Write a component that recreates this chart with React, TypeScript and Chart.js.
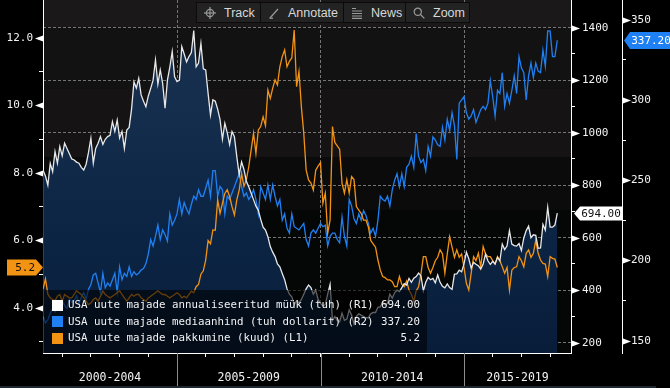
import React, { useEffect, useRef } from "react";
import { Chart, registerables } from "chart.js";

Chart.register(...registerables);

// ---------- data (monthly, Apr 2000 – Mar 2018) ----------
const START_YEAR = 2000;
const START_MONTH = 4; // April

// USA uute majade annualiseeritud müük (tuh) – R1
const SALES = [
  857, 835, 800, 883, 851, 928, 884, 947, 912,
  960, 940, 920, 900, 896, 888, 884, 868, 858, 880, 925, 979,
  884, 940, 960, 985, 955, 975, 985, 990, 1042, 1005, 1048, 980,
  1005, 940, 1010, 1020, 1090, 1194, 1170, 1207, 1144, 1120, 1099, 1140,
  1169, 1200, 1277, 1185, 1239, 1188, 1093, 1200, 1250, 1309, 1213, 1195,
  1200, 1328, 1300, 1270, 1290, 1305, 1389, 1251, 1265, 1340, 1243, 1239,
  1150, 1067, 1125, 1120, 1090, 1050, 975, 1036, 1000, 955, 1004, 985,
  909, 840, 889, 860, 815, 794, 769, 745, 720, 705, 670, 640,
  629, 604, 566, 545, 528, 500, 489, 464, 440, 405, 385, 375,
  345, 360, 352, 365, 385, 405, 420, 410, 385, 400, 365, 350,
  340, 345, 385, 422, 285, 300, 285, 280, 312, 285, 290, 325,
  305, 272, 300, 310, 305, 300, 295, 295, 310, 315, 315, 335,
  336, 355, 345, 350, 385, 370, 390, 400, 395, 410, 425, 420,
  445, 430, 446, 452, 465, 455, 398, 430, 449, 440, 445, 428,
  458, 430, 415, 409, 424, 410, 403, 461, 462, 476, 470, 500,
  545, 520, 484, 506, 499, 493, 481, 500, 538, 512, 498, 510,
  500, 525, 512, 576, 555, 569, 627, 576, 570, 568, 578, 551,
  599, 627, 644, 600, 611, 609, 560, 561, 651, 629, 716, 640,
  640, 648, 694,
];

// USA uute majade mediaanhind (tuh dollarit) – R2
const PRICE = [
  165, 161, 163, 167, 170, 168, 172, 170, 175,
  172, 170, 176, 174, 175, 178, 173, 177, 180, 176, 182, 185,
  191, 192, 186, 180, 192, 183, 186, 184, 188, 192, 180, 196,
  188, 192, 190, 196, 190, 193, 191, 192, 194, 195, 198, 204,
  213, 209, 215, 222, 213, 219, 216, 212, 229, 222, 225, 229,
  238, 229, 236, 232, 229, 235, 240, 238, 244, 240, 240, 245,
  250, 240, 256, 256, 240, 246, 244, 229, 240, 238, 242, 246,
  250, 254, 246, 240, 242, 238, 240, 244, 238, 229, 246, 242,
  238, 247, 238, 247, 240, 234, 238, 225, 229, 220, 217, 229,
  221, 220, 219, 221, 223, 213, 209, 217, 219, 217, 220, 223,
  221, 222, 209, 215, 217, 217, 213, 211, 227, 215, 209, 238,
  234, 226, 223, 229, 225, 231, 228, 223, 217, 220, 215, 225,
  240, 238, 237, 240, 234, 244, 250, 254, 246, 254, 246, 258,
  260, 265, 258, 279, 265, 261, 263, 256, 271, 265, 277, 275,
  272, 271, 283, 275, 288, 281, 292, 284, 263, 298, 300, 302,
  292, 288, 290, 294, 286, 290, 294, 296, 294, 298, 312, 302,
  290, 306, 304, 317, 296, 304, 298, 306, 315, 304, 327, 320,
  317, 300, 315, 323, 314, 323, 318, 317, 331, 321, 343, 343,
  327, 327, 337.2,
];

// USA uute majade pakkumine (kuud) – L1
const SUPPLY = [
  4.56, 4.86, 4.41, 4.3, 4.25, 4.22, 4.35, 4.4, 4.2,
  4.4, 4.35, 4.3, 4.3, 4.4, 4.51, 4.45, 4.4, 4.3, 4.2, 4.1, 4.15,
  4.25, 4.3, 4.2, 4.35, 4.5, 4.4, 4.35, 4.3, 4.35, 4.4, 4.45, 4.51,
  4.4, 4.3, 4.2, 4.3, 4.4, 4.35, 4.4, 4.4, 4.3, 4.25, 4.2, 4.3,
  4.35, 4.4, 4.45, 4.51, 4.45, 4.4, 4.4, 4.35, 4.3, 4.35, 4.4, 4.45,
  4.4, 4.3, 4.35, 4.3, 4.4, 4.5, 4.45, 4.63, 4.7, 5.0, 5.1, 5.42,
  6.0, 5.9, 6.31, 6.3, 7.2, 6.8, 7.1, 7.39, 7.5, 7.3, 7.0, 6.75,
  7.2, 7.49, 7.98, 7.6, 7.8, 8.18, 8.68, 9.17, 8.58, 9.27, 9.37, 9.66,
  9.4, 10.45, 10.2, 10.5, 10.75, 10.6, 11.14, 11.44, 11.64, 11.14, 11.3, 11.4,
  12.23, 10.55, 11.0, 9.96, 9.17, 8.08, 7.79, 7.7, 7.49, 8.08, 8.2, 8.3,
  7.1, 7.4, 6.21, 6.6, 9.37, 8.9, 8.8, 8.7, 7.69, 7.4, 7.8, 7.4,
  7.89, 7.8, 7.0, 6.9, 6.8, 6.6, 6.6, 6.4, 6.0, 5.9, 5.8, 5.42,
  5.12, 4.93, 4.9, 4.83, 4.83, 4.78, 4.63, 4.63, 4.93, 4.7, 4.63, 4.8,
  4.53, 4.4, 4.2, 4.5, 4.63, 5.0, 5.52, 5.52, 5.2, 5.03, 5.2, 5.4,
  5.5, 5.72, 5.6, 5.03, 5.6, 6.11, 5.8, 5.5, 5.72, 5.5, 5.6, 5.2,
  4.73, 4.53, 5.03, 5.52, 5.4, 5.62, 5.22, 5.82, 5.6, 5.52, 5.52, 5.4,
  5.3, 5.52, 5.4, 5.22, 5.03, 5.2, 4.53, 5.12, 5.2, 5.22, 5.52, 5.4,
  5.22, 5.62, 5.72, 5.5, 5.62, 6.0, 5.62, 5.42, 5.32, 5.3, 4.93, 5.52,
  5.47, 5.45, 5.2,
];

const SERIES_LABELS = [
  "USA uute majade annualiseeritud müük (tuh) (R1)",
  "USA uute majade mediaanhind (tuh dollarit) (R2)",
  "USA uute majade pakkumine (kuud) (L1)",
];

const L1_TICKS = [4, 6, 8, 10, 12];
const L1_MINOR = [3, 5, 7, 9, 11];
const R1_TICKS = [200, 400, 600, 800, 1000, 1200, 1400];
const R1_MINOR = [300, 500, 700, 900, 1100, 1300];
const R2_TICKS = [150, 200, 250, 300, 350];
const R2_MINOR = [175, 225, 275, 325];
const YEAR_TICKS = [2001, 2002, 2003, 2004, 2005, 2006, 2007, 2008, 2009, 2010, 2011, 2012, 2013, 2014, 2015, 2016, 2017, 2018];
const PERIODS = ["2000-2004", "2005-2009", "2010-2014", "2015-2019"];
const PERIOD_STARTS = [2000, 2005, 2010, 2015, 2020];
const TOOLBAR = ["Track", "Annotate", "News", "Zoom"];

const X_RANGE = [2000.331, 2018.728];
const L1_RANGE = [2.668, 13.116];
const R1_RANGE = [160.8, 1505.5];
const R2_RANGE = [142.3, 362.3];

// ---------- styles ----------
const MONO = "'DejaVu Sans Mono', monospace";
const WHITE = "#e8e8e8";
const BLUE = "#1f80f4";
const ORANGE = "#f39314";
const GRID = "#757575";
const CLEAR = "rgba(0,0,0,0)";

const TIMES = SALES.map((_, i) => START_YEAR + (START_MONTH + i) / 12);
const pts = (arr: number[]) => arr.map((v, i) => ({ x: TIMES[i], y: v }));

function fillGradient(c: any) {
  const chart = c.chart;
  const a = chart.chartArea;
  if (!a) return "#10284a";
  const g = chart.ctx.createLinearGradient(0, a.top, 0, a.bottom);
  g.addColorStop(0, "#18314e");
  g.addColorStop(0.3, "#152e4e");
  g.addColorStop(0.6, "#0d2646");
  g.addColorStop(1, "#081d3a");
  return g;
}

function tri(ctx: CanvasRenderingContext2D, baseX: number, y: number, dx: number) {
  ctx.beginPath();
  ctx.moveTo(baseX, y - 3);
  ctx.lineTo(baseX + dx, y);
  ctx.lineTo(baseX, y + 3);
  ctx.closePath();
  ctx.fill();
}

const decorPlugin = {
  id: "decor",
  beforeDraw(chart: any) {
    const { ctx, chartArea: a, width, height } = chart;
    ctx.save();
    ctx.fillStyle = "#000";
    ctx.fillRect(0, 0, width, height);
    const h = a.bottom - a.top;
    const bands: [number, number, string][] = [
      [0, 0.078, "#1a1818"],
      [0.078, 0.25, "#121212"],
      [0.25, 0.445, "#151313"],
      [0.445, 0.595, "#0b0b0c"],
      [0.595, 1, "#050606"],
    ];
    for (const [f0, f1, c] of bands) {
      ctx.fillStyle = c;
      ctx.fillRect(a.left, a.top + f0 * h, a.right - a.left, (f1 - f0) * h + 0.5);
    }
    ctx.restore();
  },
  afterDraw(chart: any) {
    const { ctx, height } = chart;
    const sL = chart.scales.yL;
    const s1 = chart.scales.yR1;
    const s2 = chart.scales.yR2;
    const sx = chart.scales.x;
    ctx.save();

    // axis triangles
    ctx.fillStyle = "#ffffff";
    for (const v of L1_TICKS) tri(ctx, sL.right, Math.round(sL.getPixelForValue(v)) + 0.5, -8);
    for (const v of R1_TICKS) tri(ctx, s1.left + 1, Math.round(s1.getPixelForValue(v)) + 0.5, 8);
    for (const v of R2_TICKS) tri(ctx, s2.left + 1, Math.round(s2.getPixelForValue(v)) + 0.5, 8);

    // bottom period separators & labels
    ctx.strokeStyle = "#8c8c8c";
    ctx.lineWidth = 1;
    for (const b of PERIOD_STARTS) {
      if (b > X_RANGE[0] && b < X_RANGE[1]) {
        const x = Math.round(sx.getPixelForValue(b)) + 0.5;
        ctx.beginPath();
        ctx.moveTo(x, sx.top);
        ctx.lineTo(x, height);
        ctx.stroke();
      }
    }
    ctx.fillStyle = "#1d2833";
    ctx.fillRect(0, height - 2, 656, 2);
    ctx.fillStyle = "#f2f2f2";
    ctx.font = `11.5px ${MONO}`;
    ctx.textAlign = "center";
    ctx.textBaseline = "middle";
    PERIODS.forEach((p, i) => {
      const lo = Math.max(PERIOD_STARTS[i], X_RANGE[0]);
      const hi = Math.min(PERIOD_STARTS[i + 1], X_RANGE[1]);
      const cx = (sx.getPixelForValue(lo) + sx.getPixelForValue(hi)) / 2;
      ctx.fillText(p, cx, sx.top + 25);
    });

    // legend box
    const lx0 = sL.right + 1;
    const ly0 = 290;
    const lx1 = 427;
    const ly1 = sx.top;
    ctx.fillStyle = "rgba(0,0,0,0.58)";
    ctx.beginPath();
    ctx.moveTo(lx0, ly0);
    ctx.lineTo(lx1, ly0);
    ctx.lineTo(lx1, ly1 - 3);
    ctx.quadraticCurveTo(lx1, ly1, lx1 - 3, ly1);
    ctx.lineTo(lx0, ly1);
    ctx.closePath();
    ctx.fill();
    const rows = [
      { c: "#ffffff", t: SERIES_LABELS[0], v: SALES[SALES.length - 1].toFixed(2) },
      { c: BLUE, t: SERIES_LABELS[1], v: PRICE[PRICE.length - 1].toFixed(2) },
      { c: ORANGE, t: SERIES_LABELS[2], v: SUPPLY[SUPPLY.length - 1].toFixed(1) },
    ];
    ctx.font = `10.8px ${MONO}`;
    ctx.textBaseline = "middle";
    rows.forEach((r, i) => {
      const yc = 305 + i * 16.5;
      ctx.fillStyle = r.c;
      ctx.fillRect(52, Math.round(yc - 5.5), 11, 11);
      ctx.fillStyle = "#f2f2f2";
      ctx.textAlign = "left";
      ctx.fillText(r.t, 68, yc + 0.5);
      ctx.textAlign = "right";
      ctx.fillText(r.v, 420, yc + 0.5);
    });

    // value tags
    ctx.font = `11px ${MONO}`;
    ctx.textBaseline = "middle";
    // L1 (orange, left)
    {
      const y = Math.round(sL.getPixelForValue(SUPPLY[SUPPLY.length - 1])) + 0.5;
      ctx.fillStyle = ORANGE;
      ctx.beginPath();
      ctx.moveTo(7, y - 8);
      ctx.lineTo(36, y - 8);
      ctx.lineTo(43, y);
      ctx.lineTo(36, y + 8);
      ctx.lineTo(7, y + 8);
      ctx.closePath();
      ctx.fill();
      ctx.fillStyle = "#111";
      ctx.textAlign = "right";
      ctx.fillText(SUPPLY[SUPPLY.length - 1].toFixed(1), 35, y + 0.5);
    }
    // R1 (white)
    {
      const y = Math.round(s1.getPixelForValue(SALES[SALES.length - 1])) + 0.5;
      const x0 = s1.left + 3;
      ctx.fillStyle = "#ffffff";
      ctx.beginPath();
      ctx.moveTo(x0, y);
      ctx.lineTo(x0 + 6, y - 7);
      ctx.lineTo(s2.left, y - 7);
      ctx.lineTo(s2.left, y + 7);
      ctx.lineTo(x0 + 6, y + 7);
      ctx.closePath();
      ctx.fill();
      ctx.fillStyle = "#111";
      ctx.textAlign = "center";
      ctx.fillText(SALES[SALES.length - 1].toFixed(2), (x0 + 6 + s2.left) / 2, y + 0.5);
    }
    // R2 (blue)
    {
      const y = Math.round(s2.getPixelForValue(PRICE[PRICE.length - 1])) + 0.5;
      const x0 = s2.left + 2;
      ctx.fillStyle = BLUE;
      ctx.beginPath();
      ctx.moveTo(x0, y);
      ctx.lineTo(x0 + 6, y - 8.5);
      ctx.lineTo(s2.right, y - 8.5);
      ctx.lineTo(s2.right, y + 8.5);
      ctx.lineTo(x0 + 6, y + 8.5);
      ctx.closePath();
      ctx.fill();
      ctx.fillStyle = "#ffffff";
      ctx.textAlign = "center";
      ctx.fillText(PRICE[PRICE.length - 1].toFixed(2), (x0 + 6 + s2.right) / 2 + 1, y + 0.5);
    }
    ctx.restore();
  },
};

function ToolIcon({ kind }: { kind: string }) {
  const st = { stroke: "#9a9a9a", strokeWidth: 1.2, fill: "none" };
  return (
    <svg width="12" height="12" viewBox="0 0 12 12" style={{ flex: "none" }}>
      {kind === "Track" && (
        <g {...st}>
          <circle cx="6" cy="6" r="3.6" />
          <line x1="6" y1="0" x2="6" y2="12" />
          <line x1="0" y1="6" x2="12" y2="6" />
        </g>
      )}
      {kind === "Annotate" && (
        <g {...st}>
          <line x1="2" y1="11" x2="10" y2="2" />
          <line x1="1.5" y1="11.2" x2="5" y2="11.2" />
        </g>
      )}
      {kind === "News" && (
        <g {...st}>
          <path d="M1 1.5h4M1 4h10M1 6.5h10M1 9h10M1 11.3h10" />
        </g>
      )}
      {kind === "Zoom" && (
        <g {...st}>
          <circle cx="4.8" cy="4.8" r="3.6" />
          <line x1="7.5" y1="7.5" x2="11.3" y2="11.3" />
        </g>
      )}
    </svg>
  );
}

export default function App() {
  const ref = useRef<HTMLCanvasElement | null>(null);

  useEffect(() => {
    if (!ref.current) return;
    const chart = new Chart(ref.current, {
      type: "line",
      data: {
        datasets: [
          {
            label: SERIES_LABELS[0],
            data: pts(SALES),
            yAxisID: "yR1",
            borderColor: WHITE,
            borderWidth: 1.3,
            pointRadius: 0,
            tension: 0,
            fill: "start",
            backgroundColor: fillGradient,
            order: 0,
          },
          {
            label: SERIES_LABELS[2],
            data: pts(SUPPLY),
            yAxisID: "yL",
            borderColor: ORANGE,
            borderWidth: 1.3,
            pointRadius: 0,
            tension: 0,
            fill: false,
            order: 1,
          },
          {
            label: SERIES_LABELS[1],
            data: pts(PRICE),
            yAxisID: "yR2",
            borderColor: BLUE,
            borderWidth: 1.3,
            pointRadius: 0,
            tension: 0,
            fill: false,
            order: 2,
          },
        ],
      } as any,
      options: {
        responsive: false,
        maintainAspectRatio: false,
        animation: false,
        devicePixelRatio: 1,
        events: [],
        layout: { padding: 0 },
        plugins: {
          legend: { display: false },
          tooltip: { enabled: false },
          filler: { drawTime: "beforeDatasetsDraw" },
        } as any,
        scales: {
          x: {
            type: "linear",
            position: "bottom",
            min: X_RANGE[0],
            max: X_RANGE[1],
            z: 1,
            afterFit: (s: any) => {
              s.height = 35;
              s.paddingLeft = 0;
              s.paddingRight = 0;
            },
            afterBuildTicks: (s: any) => {
              s.ticks = YEAR_TICKS.map((v) => ({ value: v }));
            },
            ticks: { display: false },
            grid: {
              display: true,
              drawOnChartArea: true,
              drawTicks: true,
              tickLength: 4,
              lineWidth: 1,
              color: (c: any) => (c.tick && PERIOD_STARTS.includes(c.tick.value) ? GRID : CLEAR),
              tickColor: "#ffffff",
            },
            border: { display: true, color: "#ffffff", width: 1, dash: [3, 2] },
          },
          yL: {
            type: "linear",
            position: "left",
            min: L1_RANGE[0],
            max: L1_RANGE[1],
            afterFit: (s: any) => {
              s.width = 43;
              s.paddingTop = 0;
              s.paddingBottom = 0;
            },
            afterBuildTicks: (s: any) => {
              s.ticks = [...L1_TICKS, ...L1_MINOR].sort((a, b) => a - b).map((v) => ({ value: v }));
            },
            ticks: {
              autoSkip: false,
              color: "#f2f2f2",
              font: { family: MONO, size: 11 },
              padding: 6,
              callback: (v: any) => (L1_TICKS.includes(v) ? Number(v).toFixed(1) : ""),
            },
            grid: {
              display: true,
              drawOnChartArea: false,
              drawTicks: true,
              tickLength: 4,
              tickColor: (c: any) => (c.tick && L1_MINOR.includes(c.tick.value) ? "#ffffff" : CLEAR),
            },
            border: { display: true, color: "#ffffff", width: 1 },
          },
          yR1: {
            type: "linear",
            position: "right",
            weight: 1,
            min: R1_RANGE[0],
            max: R1_RANGE[1],
            z: 1,
            afterFit: (s: any) => {
              s.width = 51;
              s.paddingTop = 0;
              s.paddingBottom = 0;
            },
            afterBuildTicks: (s: any) => {
              s.ticks = [...R1_TICKS, ...R1_MINOR].sort((a, b) => a - b).map((v) => ({ value: v }));
            },
            ticks: {
              autoSkip: false,
              color: "#f2f2f2",
              font: { family: MONO, size: 11 },
              padding: 7,
              callback: (v: any) => (R1_TICKS.includes(v) ? String(v) : ""),
            },
            grid: {
              display: true,
              drawOnChartArea: true,
              drawTicks: true,
              tickLength: 4,
              lineWidth: 1,
              color: (c: any) => (c.tick && R1_TICKS.includes(c.tick.value) ? GRID : CLEAR),
              tickColor: (c: any) => (c.tick && R1_MINOR.includes(c.tick.value) ? "#ffffff" : CLEAR),
            },
            border: { display: true, color: "#ffffff", width: 1, dash: [3, 2] },
          },
          yR2: {
            type: "linear",
            position: "right",
            weight: 2,
            min: R2_RANGE[0],
            max: R2_RANGE[1],
            afterFit: (s: any) => {
              s.width = 48;
              s.paddingTop = 0;
              s.paddingBottom = 0;
            },
            afterBuildTicks: (s: any) => {
              s.ticks = [...R2_TICKS, ...R2_MINOR].sort((a, b) => a - b).map((v) => ({ value: v }));
            },
            ticks: {
              autoSkip: false,
              color: "#f2f2f2",
              font: { family: MONO, size: 11 },
              padding: 5,
              callback: (v: any) => (R2_TICKS.includes(v) ? String(v) : ""),
            },
            grid: {
              display: true,
              drawOnChartArea: false,
              drawTicks: true,
              tickLength: 4,
              tickColor: (c: any) => (c.tick && R2_MINOR.includes(c.tick.value) ? "#ffffff" : CLEAR),
            },
            border: { display: true, color: "#ffffff", width: 1 },
          },
        },
      } as any,
      plugins: [decorPlugin],
    });
    return () => chart.destroy();
  }, []);

  const btnWidths = [63, 82, 61, 63];
  return (
    <div style={{ position: "fixed", left: 0, top: 0, width: 670, height: 388, background: "#000", overflow: "hidden" }}>
      <canvas ref={ref} width={670} height={388} style={{ display: "block", width: 670, height: 388 }} />
      <div
        style={{
          position: "absolute",
          left: 196,
          top: 2,
          height: 21,
          display: "flex",
          gap: 1,
          padding: 1,
          boxSizing: "border-box",
          background: "#0b0b0b",
        }}
      >
        {TOOLBAR.map((t, i) => (
          <div
            key={t}
            style={{
              width: btnWidths[i],
              height: 19,
              background: "#232323",
              display: "flex",
              alignItems: "center",
              paddingLeft: 7,
              boxSizing: "border-box",
              color: "#d8d8d8",
              fontFamily: "'Liberation Sans', Arial, sans-serif",
              fontSize: 12.5,
              whiteSpace: "nowrap",
            }}
          >
            <ToolIcon kind={t} />
            <span style={{ marginLeft: 8 }}>{t}</span>
          </div>
        ))}
      </div>
    </div>
  );
}
